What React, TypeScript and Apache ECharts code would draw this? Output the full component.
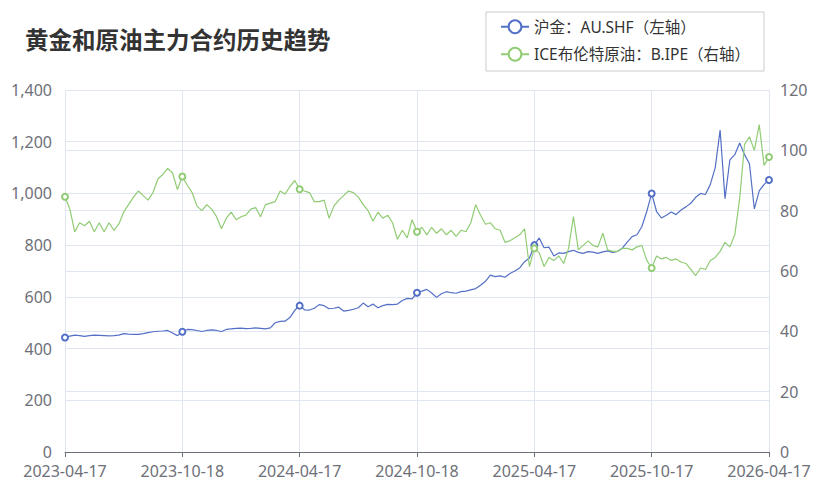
import React, { useEffect, useRef } from "react";
import * as echarts from "echarts";

const titleText = "黄金和原油主力合约历史趋势";
const goldName = "沪金：AU.SHF（左轴）";
const oilName = "ICE布伦特原油：B.IPE（右轴）";

const tickLabels = ["2023-04-17", "2023-10-18", "2024-04-17", "2024-10-18", "2025-04-17", "2025-10-17", "2026-04-17"];
const pointsPerTick = 24;

const goldValues = [
  443, 448, 452, 450, 447, 450, 452, 451, 450, 449, 450, 452, 458, 456, 455, 455, 458, 462, 465, 467, 468, 470, 460, 450, 465,
  474, 473, 470, 466, 470, 472, 470, 466, 474, 476, 478, 479, 477, 478, 480, 478, 476, 480, 500, 505, 506, 520, 548, 566,
  550, 549, 556, 570, 566, 554, 556, 560, 545, 548, 552, 558, 576, 562, 572, 558, 566, 571, 570, 572, 586, 594, 592, 616,
  622, 629, 615, 598, 612, 620, 616, 614, 620, 622, 627, 632, 645, 660, 684, 678, 681, 676, 690, 700, 712, 736, 750, 800,
  828, 790, 792, 758, 770, 768, 775, 780, 772, 768, 775, 773, 768, 774, 778, 772, 776, 788, 812, 833, 840, 872, 930, 1000,
  930, 905, 916, 928, 918, 936, 948, 962, 985, 1000, 996, 1035, 1100, 1245, 980, 1130, 1150, 1195, 1150, 1115, 940, 1010, 1035, 1052,
];

const oilValues = [
  84.6, 80.5, 73.0, 76.0, 75.0, 76.5, 73.0, 76.0, 73.0, 76.0, 73.5, 75.5, 79.5, 82.0, 84.5, 86.5, 85.0, 83.5, 86.0, 90.5, 92.0, 94.0, 92.5, 87.0, 91.3,
  88.5, 86.0, 81.5, 80.0, 82.0, 80.5, 78.0, 74.0, 77.5, 79.5, 77.0, 78.0, 78.5, 80.5, 81.0, 78.0, 82.0, 82.5, 83.0, 86.5, 85.5, 88.0, 90.0, 87.1,
  86.5, 86.0, 83.0, 83.0, 83.5, 77.5, 81.5, 83.5, 85.0, 86.5, 86.0, 84.5, 82.0, 80.0, 76.5, 79.5, 77.5, 78.5, 76.0, 70.5, 73.5, 71.0, 77.0, 73.0,
  74.5, 72.0, 74.5, 72.5, 74.0, 72.0, 73.5, 71.5, 73.5, 73.0, 76.0, 82.0, 78.5, 75.5, 76.0, 74.0, 73.5, 69.5, 70.0, 71.0, 72.0, 74.0, 61.5, 67.5,
  66.0, 61.5, 64.5, 63.5, 65.0, 62.5, 67.5, 78.0, 67.0, 68.5, 70.0, 68.5, 68.0, 72.5, 67.0, 66.5, 66.5, 67.5, 67.5, 67.0, 68.0, 68.5, 63.5, 61.0,
  65.0, 64.0, 64.5, 63.5, 64.0, 63.0, 62.5, 60.5, 58.5, 61.0, 60.5, 63.5, 64.5, 66.5, 69.5, 68.0, 72.0, 84.0, 102.0, 104.5, 100.0, 108.5, 95.0, 97.8,
];

const FONT = "'Noto Sans', 'Noto Sans CJK SC', sans-serif";

export default function App() {
  const ref = useRef<HTMLDivElement>(null);
  useEffect(() => {
    document.body.style.margin = "0";
    if (!ref.current) return;
    const chart = echarts.init(ref.current, undefined, { renderer: "svg" });
    const categories = goldValues.map((_, i) => String(i));
    chart.setOption({
      animation: false,
      color: ["#5470c6", "#91cc75"],
      textStyle: { fontFamily: FONT },
      title: {
        text: titleText,
        left: 20,
        top: 23,
        textStyle: { fontSize: 23.5, fontWeight: "bold", color: "#333", fontFamily: FONT },
      },
      legend: {
        orient: "vertical",
        right: 68,
        top: 12,
        padding: [7, 14, 9, 14],
        itemGap: 12,
        itemWidth: 28,
        itemHeight: 16,
        borderColor: "#ccc",
        borderWidth: 1,
        lineStyle: { width: 2 },
        itemStyle: { borderWidth: 2 },
        textStyle: { fontSize: 15.5, color: "#333", fontFamily: FONT },
        data: [goldName, oilName],
      },
      grid: { left: 65, right: 63, top: 90, bottom: 38, containLabel: false },
      xAxis: {
        type: "category",
        data: categories,
        boundaryGap: false,
        axisLine: { lineStyle: { color: "#6E7079" } },
        axisTick: { interval: pointsPerTick - 1, alignWithLabel: true },
        axisLabel: {
          interval: pointsPerTick - 1,
          fontSize: 16,
          lineHeight: 12,
          color: "#6E7079",
          margin: 13,
          formatter: (_v: string, idx: number) => (idx % pointsPerTick === 0 ? tickLabels[idx / pointsPerTick] : ""),
        },
        splitLine: { show: true, interval: pointsPerTick - 1, lineStyle: { color: "#E0E6F1" } },
      },
      yAxis: [
        {
          type: "value",
          min: 0,
          max: 1400,
          interval: 200,
          axisLabel: { fontSize: 16, lineHeight: 12, color: "#6E7079", margin: 13 },
          splitLine: { lineStyle: { color: "#E0E6F1" } },
        },
        {
          type: "value",
          min: 0,
          max: 120,
          interval: 20,
          axisLabel: { fontSize: 16, lineHeight: 12, color: "#6E7079", margin: 11 },
          splitLine: { lineStyle: { color: "#E0E6F1" } },
        },
      ],
      series: [
        {
          name: goldName,
          type: "line",
          yAxisIndex: 0,
          data: goldValues,
          symbol: "emptyCircle",
          symbolSize: 6,
          lineStyle: { width: 1.2 },
        },
        {
          name: oilName,
          type: "line",
          yAxisIndex: 1,
          data: oilValues,
          symbol: "emptyCircle",
          symbolSize: 6,
          lineStyle: { width: 1.2 },
        },
      ],
    });
    return () => chart.dispose();
  }, []);
  return <div ref={ref} style={{ width: 832, height: 490 }} />;
}
